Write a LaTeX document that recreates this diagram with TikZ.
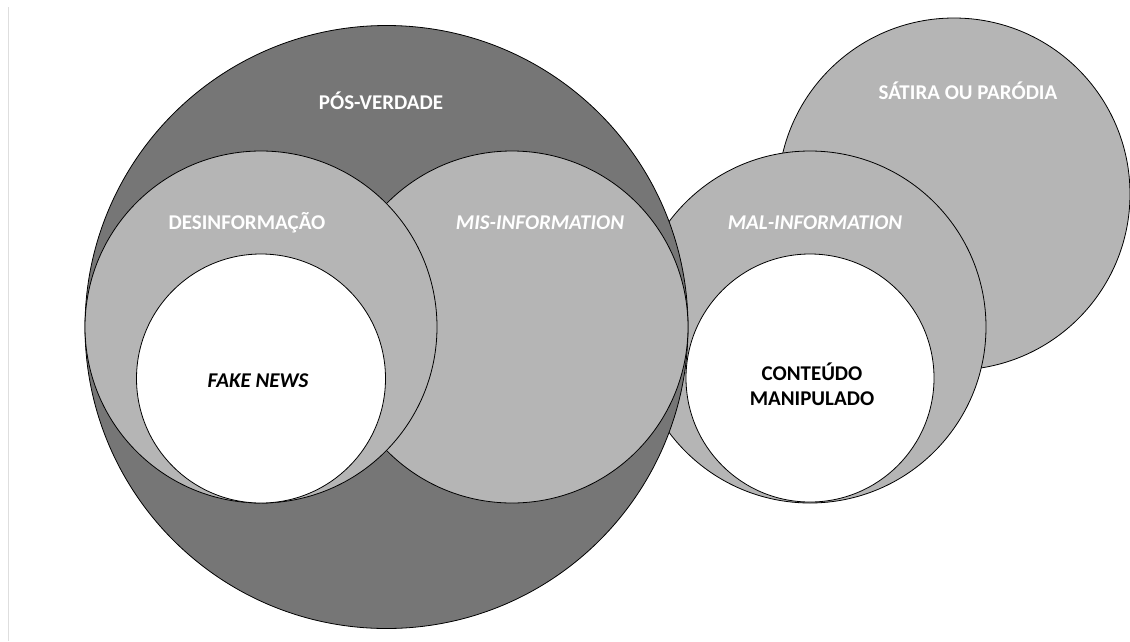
\documentclass[tikz,border=0pt]{standalone}
\usepackage{fontspec}
\setmainfont{Carlito}
\definecolor{darkg}{RGB}{118,118,118}
\definecolor{lightg}{RGB}{181,181,181}
\definecolor{frameg}{RGB}{222,222,222}
\begin{document}
\begin{tikzpicture}[x=1pt,y=-1pt,
  ring/.style={circle, draw=black, line width=0.8pt, inner sep=0pt, outer sep=0pt},
  lbl/.style={font=\fontsize{21}{25}\selectfont\bfseries, inner sep=0pt},
  ilbl/.style={font=\fontsize{21}{25}\selectfont\bfseries\itshape, inner sep=0pt}]
\useasboundingbox (0,0) rectangle (1130,641);
\fill[white] (0,0) rectangle (1130,641);
\draw[frameg, line width=1.5pt] (8.5,7) -- (8.5,641);
% right group
\node[ring, fill=lightg, minimum size=352pt] (sat) at (954,194) {};
\node[ring, fill=lightg, minimum size=352pt] (mal) at (810,327) {};
\node[ring, fill=white, minimum size=248pt] (cont) at (810,378) {};
% left group
\node[ring, fill=darkg, minimum size=603pt] (pos) at (386.5,327) {};
\node[ring, fill=lightg, minimum size=352pt] (mis) at (512,327) {};
\node[ring, fill=lightg, minimum size=352pt] (des) at (261,327) {};
\node[ring, fill=white, minimum size=249pt] (fake) at (261,378.5) {};
% labels
\node[lbl, text=white] (tpos) at (381,101) {PÓS-VERDADE};
\node[lbl, text=white] (tdes) at (247,223) {DESINFORMAÇÃO};
\node[ilbl, text=white] (tmis) at (540,223) {MIS-INFORMATION};
\node[ilbl, text=white] (tmal) at (815,223) {MAL-INFORMATION};
\node[lbl, text=white] (tsat) at (968,91) {SÁTIRA OU PARÓDIA};
\node[ilbl, text=black] (tfake) at (258,381) {FAKE NEWS};
\node[lbl, text=black, align=center] (tcont) at (812,384.5) {CONTEÚDO\\MANIPULADO};
\end{tikzpicture}
\end{document}
